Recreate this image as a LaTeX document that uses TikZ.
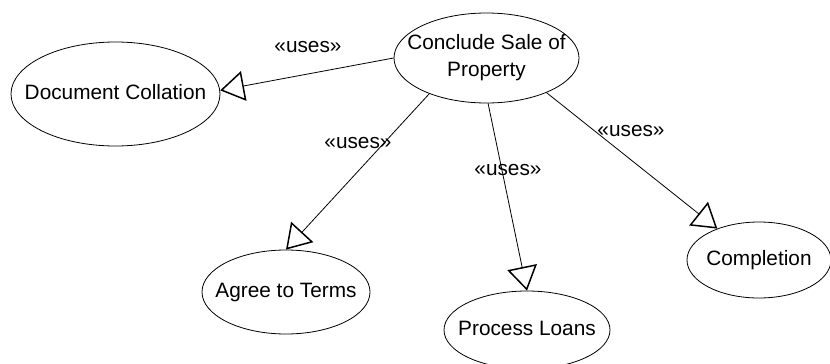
\documentclass[tikz,border=0pt]{standalone}
\usepackage{fontspec}
\setmainfont{Liberation Sans}
\usetikzlibrary{shapes.geometric,arrows.meta}
\newcommand{\zbox}[1]{\makebox[0pt][c]{\begin{tabular}{@{}c@{}}#1\end{tabular}}}
\begin{document}
\begin{tikzpicture}[x=1pt,y=-1pt,
  uc/.style={ellipse,draw=black,line width=0.8pt,inner sep=0pt,
    font=\fontsize{20.8}{27}\selectfont},
  uses/.style={draw=black,line width=0.8pt,
    -{Triangle[open,length=24pt,width=30pt,line width=1.5pt]}},
  lbl/.style={font=\fontsize{20.8}{25}\selectfont,inner sep=0pt}]
\useasboundingbox (0,0) rectangle (830,364);
\node[uc,minimum width=185pt,minimum height=90pt] (conc) at (486.5,58) {\zbox{Conclude Sale of\\Property}};
\node[uc,minimum width=209pt,minimum height=104pt] (doc) at (115.5,94) {\zbox{Document Collation}};
\node[uc,minimum width=168pt,minimum height=84pt] (agree) at (286,292) {\zbox{Agree to Terms}};
\node[uc,minimum width=166pt,minimum height=78pt] (proc) at (527,330) {\zbox{Process Loans}};
\node[uc,minimum width=144pt,minimum height=76pt] (compl) at (759,260) {\zbox{Completion}};
\draw[uses] (conc.180) -- (doc.2);
\draw[uses] (conc.212) -- (agree.north);
\draw[uses] (conc.272) -- (proc.north);
\draw[uses] (conc.330) -- (compl.143);
\node[lbl] (l1) at (308,47) {«uses»};
\node[lbl] (l2) at (358,143) {«uses»};
\node[lbl] (l3) at (508,170) {«uses»};
\node[lbl] (l4) at (631,131) {«uses»};
\end{tikzpicture}
\end{document}
